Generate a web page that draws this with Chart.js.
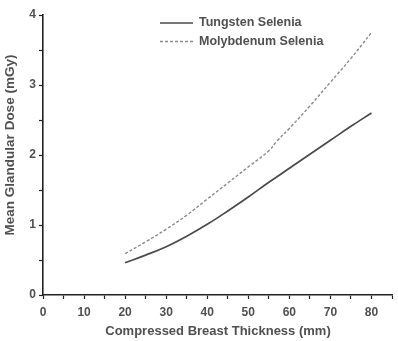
<!DOCTYPE html>
<html>
<head>
<meta charset="utf-8">
<script src="https://cdn.jsdelivr.net/npm/chart.js@4.4.1/dist/chart.umd.min.js"></script>
<style>
html,body{margin:0;padding:0;background:#fff;}
#wrap{width:398px;height:341px;position:relative;}
</style>
</head>
<body>
<div id="wrap"><canvas id="c" width="398" height="341"></canvas></div>
<script>
const thickness = [20,25,30,35,40,45,50,55,60,65,70,75,80];
const tungsten = [0.46,0.57,0.69,0.84,1.01,1.20,1.40,1.61,1.81,2.01,2.21,2.41,2.60];
const molyX = [20,25,30,35,40,45,50,55,57,60,65,70,75,80];
const molybdenum = [0.59,0.76,0.94,1.14,1.37,1.60,1.83,2.06,2.20,2.38,2.70,3.04,3.38,3.75];
const seriesNames = ['Tungsten Selenia','Molybdenum Selenia'];
const xTitle = 'Compressed Breast Thickness (mm)';
const yTitle = 'Mean Glandular Dose (mGy)';

const FONT = "'Liberation Sans', Arial, sans-serif";
const TXT = '#505050';

const legendPlugin = {
  id: 'customLegend',
  afterDraw(chart) {
    const ctx = chart.ctx;
    ctx.save();
    ctx.font = "bold 12.5px " + FONT;
    ctx.fillStyle = TXT;
    ctx.textBaseline = 'middle';
    chart.data.datasets.forEach((ds, i) => {
      const y = 23 + i * 18.5;
      ctx.strokeStyle = ds.borderColor;
      ctx.lineWidth = ds.borderWidth;
      ctx.setLineDash(ds.borderDash || []);
      ctx.beginPath();
      ctx.moveTo(160, y);
      ctx.lineTo(193, y);
      ctx.stroke();
      ctx.setLineDash([]);
      ctx.fillText(ds.label, 199, y);
    });
    // x axis title
    ctx.font = "bold 13px " + FONT;
    ctx.textAlign = 'center';
    ctx.fillText(xTitle, 218, 331);
    // y axis title
    ctx.translate(10, 145);
    ctx.rotate(-Math.PI / 2);
    ctx.font = "bold 13.5px " + FONT;
    ctx.fillText(yTitle, 0, 0);
    ctx.restore();
  }
};

new Chart(document.getElementById('c'), {
  type: 'line',
  data: {
    datasets: [
      { label: seriesNames[0], data: thickness.map((x,i)=>({x, y: tungsten[i]})),
        borderColor: '#4a4a4a', borderWidth: 1.7, pointRadius: 0, tension: 0.4, fill: false },
      { label: seriesNames[1], data: molyX.map((x,i)=>({x, y: molybdenum[i]})),
        borderColor: '#8a8a8a', borderWidth: 1.4, borderDash: [3,2], pointRadius: 0, tension: 0.4, fill: false }
    ]
  },
  options: {
    responsive: false,
    animation: false,
    layout: { padding: { top: 15, right: 6, left: 0, bottom: 0 } },
    plugins: { legend: { display: false }, tooltip: { enabled: false } },
    scales: {
      x: {
        type: 'linear', min: 0, max: 85,
        afterFit(s) { s.height = 46; },
        border: { display: true, color: '#222', width: 1.6 },
        grid: { drawOnChartArea: false, drawTicks: true, tickLength: 4, color: '#222', tickWidth: 1.2 },
        ticks: { stepSize: 5, autoSkip: false, maxRotation: 0, color: TXT, font: { family: FONT, size: 12, weight: 'bold' }, padding: 6,
          callback: v => (v % 10 === 0 && v <= 80) ? String(v) : '' },
        title: { display: false, text: xTitle }
      },
      y: {
        type: 'linear', min: 0, max: 4,
        afterFit(s) { s.width = 43; },
        border: { display: true, color: '#222', width: 1.6 },
        grid: { drawOnChartArea: false, drawTicks: true, tickLength: 4, color: '#222', tickWidth: 1.2 },
        ticks: { stepSize: 0.5, autoSkip: false, color: TXT, font: { family: FONT, size: 12, weight: 'bold' }, padding: 3,
          callback: v => (v % 1 === 0) ? String(v) : '' },
        title: { display: false, text: yTitle }
      }
    }
  },
  plugins: [legendPlugin]
});
</script>
</body>
</html>
